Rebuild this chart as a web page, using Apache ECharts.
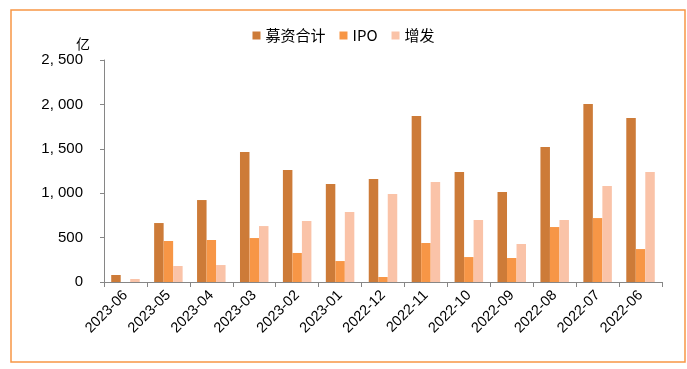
<!DOCTYPE html>
<html><head><meta charset="utf-8">
<script src="https://cdn.jsdelivr.net/npm/echarts@6/dist/echarts.min.js"></script>
<style>html,body{margin:0;padding:0;background:#fff}#c{width:687px;height:369px}</style>
</head><body><div id="c"></div>
<script>
const categories = ['2023-06','2023-05','2023-04','2023-03','2023-02','2023-01','2022-12','2022-11','2022-10','2022-09','2022-08','2022-07','2022-06'];
const totalRaised = [79, 664, 923, 1464, 1261, 1104, 1160, 1869, 1239, 1014, 1520, 2005, 1847];
const ipo = [0, 462, 473, 495, 327, 236, 56, 439, 281, 270, 619, 720, 371];
const placement = [34, 180, 191, 630, 687, 788, 991, 1126, 698, 428, 698, 1081, 1239];
const yTicks = [0, 500, 1000, 1500, 2000, 2500];

const chart = echarts.init(document.getElementById('c'));
const fmt = v => { const s = String(v); return s.length > 3 ? s.slice(0, -3) + ', ' + s.slice(-3) : s; };
chart.setOption({
  animation: false,
  graphic: [{type:'rect', shape:{x:11, y:10, width:674, height:352}, style:{fill:'none', stroke:'#F79646', lineWidth:1.5}}],
  legend: {
    top: 23, left: 'center', itemWidth: 8, itemHeight: 8, itemGap: 14,
    icon: 'rect',
    textStyle: {fontFamily: 'Noto Sans CJK SC', fontSize: 15, color: '#000'},
    data: ['募资合计','IPO','增发']
  },
  grid: {left: 104, right: 25, top: 60, bottom: 87},
  xAxis: {
    type: 'category', data: categories,
    axisLine: {lineStyle: {color: '#868686'}},
    axisTick: {show: true, length: 5, lineStyle: {color: '#868686'}},
    axisLabel: {rotate: 45, fontFamily: 'Liberation Sans', fontSize: 14.5, color: '#000', margin: 11, interval: 0}
  },
  yAxis: {
    type: 'value', min: 0, max: 2500, interval: 500,
    name: '亿', nameLocation: 'end', nameGap: 9,
    nameTextStyle: {fontFamily: 'Noto Sans CJK SC', fontSize: 14, color: '#000', align: 'right', padding: [0, 14, 0, 0]},
    axisLine: {show: true, lineStyle: {color: '#868686'}},
    axisTick: {show: true, length: 4, lineStyle: {color: '#868686'}},
    splitLine: {show: false},
    axisLabel: {fontFamily: 'Liberation Sans', fontSize: 15, color: '#000', margin: 21,
      formatter: v => yTicks.includes(v) ? fmt(v) : ''}
  },
  series: [
    {name: '募资合计', type: 'bar', data: totalRaised, barWidth: 9.5, barGap: '0%', itemStyle: {color: '#CD7B38'}},
    {name: 'IPO', type: 'bar', data: ipo, barWidth: 9.5, barGap: '0%', itemStyle: {color: '#F79646'}},
    {name: '增发', type: 'bar', data: placement, barWidth: 9.5, barGap: '0%', itemStyle: {color: '#FAC3A8'}}
  ]
});
</script></body></html>
